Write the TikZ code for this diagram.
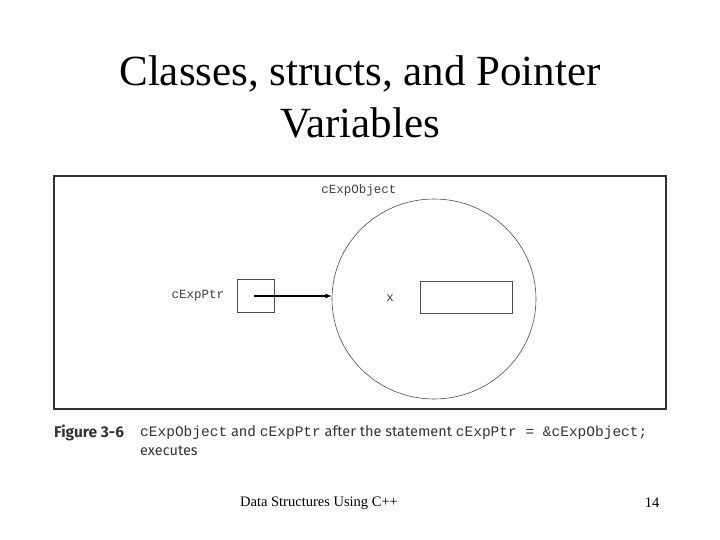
\documentclass[tikz,border=0pt]{standalone}
\usepackage{fontspec}
\usetikzlibrary{shapes.geometric}
\setmainfont{Liberation Serif}
\newfontfamily\mymono{Liberation Mono}
\newfontfamily\mycap{Fira Sans}
\begin{document}
\begin{tikzpicture}[x=1pt,y=-1pt,
  lbl/.style={font=\mymono\fontsize{12.5}{14}\selectfont, text=black!75, inner sep=0},
  thinb/.style={draw=black!70, line width=0.6pt}]
\useasboundingbox (0,0) rectangle (720,540);
\node[font=\fontsize{43}{52}\selectfont, align=center] (title) at (360,97) {Classes, structs, and Pointer\\Variables};
\node[draw=black!80, line width=1.2pt, minimum width=612pt, minimum height=233pt, inner sep=0] (frame) at (360,292.5) {};
\node[thinb, ellipse, minimum width=204pt, minimum height=200pt, inner sep=0] (obj) at (434,299) {};
\node[lbl] (objl) at (359,190) {cExpObject};
\node[thinb, minimum width=37pt, minimum height=33pt, inner sep=0] (ptr) at (256,295.5) {};
\node[lbl] (ptrl) at (198,296) {cExpPtr};
\coordinate (ps) at (254,296);
\draw[line width=1.2pt, -latex] (ps) -- (ps -| obj.west);
\node[lbl] (x) at (390,298) {x};
\node[thinb, minimum width=92pt, minimum height=32pt, inner sep=0] (xv) at (466,297) {};
\node[font=\mycap\bfseries\fontsize{15.5}{17}\selectfont, text=black!80, anchor=west, inner sep=0] (fig) at (54,433) {Figure 3-6};
\node[font=\mycap\fontsize{14.5}{19}\selectfont, text=black!80, anchor=north west, inner sep=0, align=left] (cap) at (140,425)
 {{\mymono cExpObject} and {\mymono cExpPtr} after the statement {\mymono cExpPtr = \&cExpObject;}\\executes};
\node[font=\fontsize{14.5}{17}\selectfont] (foot) at (319,503) {Data Structures Using C++};
\node[font=\fontsize{14.5}{17}\selectfont] (pg) at (652,503) {14};
\end{tikzpicture}
\end{document}
